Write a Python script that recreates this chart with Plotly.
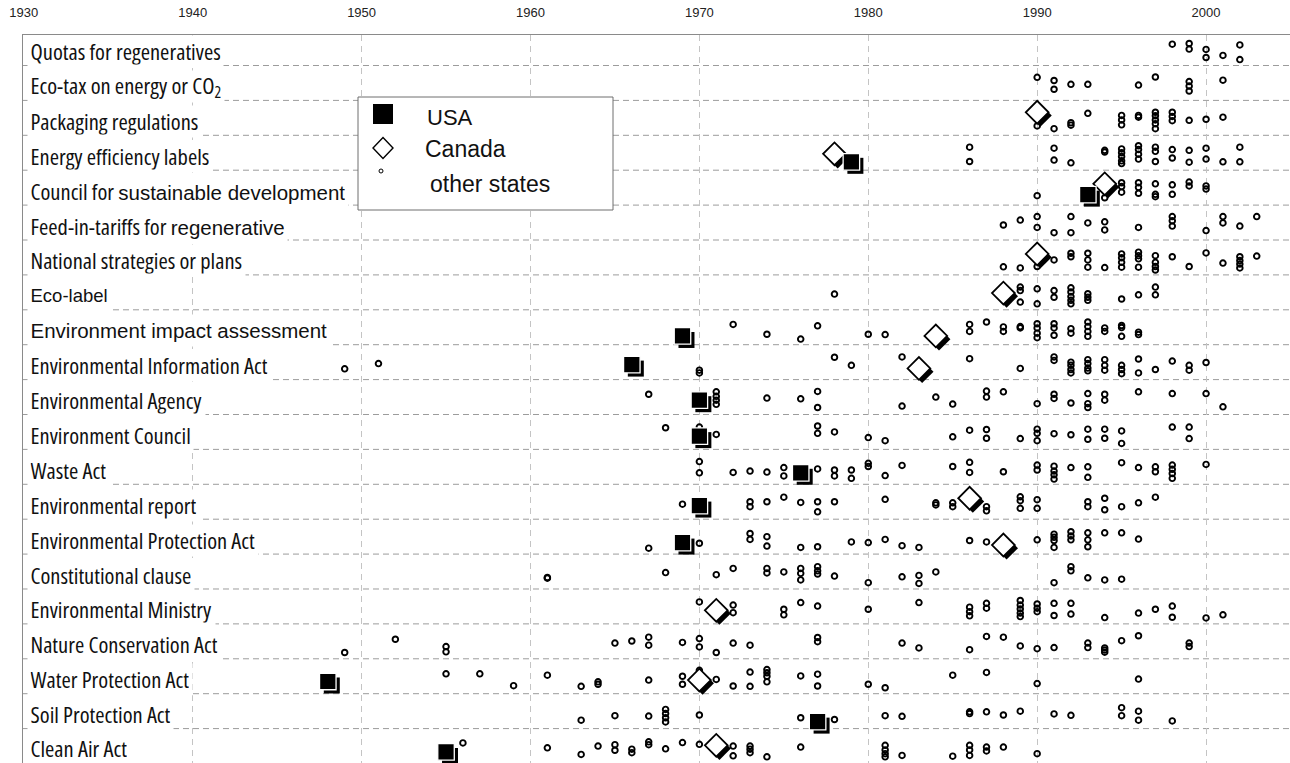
import plotly.graph_objects as go

# ---------------------------------------------------------------- data
categories = [
    "Quotas for regeneratives",
    "Eco-tax on energy or CO2",
    "Packaging regulations",
    "Energy efficiency labels",
    "Council for sustainable development",
    "Feed-in-tariffs for regenerative",
    "National strategies or plans",
    "Eco-label",
    "Environment impact assessment",
    "Environmental Information Act",
    "Environmental Agency",
    "Environment Council",
    "Waste Act",
    "Environmental report",
    "Environmental Protection Act",
    "Constitutional clause",
    "Environmental Ministry",
    "Nature Conservation Act",
    "Water Protection Act",
    "Soil Protection Act",
    "Clean Air Act",
]

tick_years = [1930, 1940, 1950, 1960, 1970, 1980, 1990, 2000]

# USA: row index, year of adoption, vertical place inside the row (row units)
usa_row = [3, 4, 8, 9, 10, 11, 12, 13, 14, 18, 19, 20]
usa_year = [1979, 1993, 1969, 1966, 1970, 1970, 1976, 1970, 1969, 1948, 1977, 1955]
usa_shift = [0.26, 0.20, 0.25, 0.07, 0.09, 0.12, 0.17, 0.11, 0.17, 0.15, 0.30, 0.17]

# Canada
canada_row = [2, 3, 4, 6, 7, 8, 9, 13, 14, 16, 18, 20]
canada_year = [1990, 1978, 1994, 1990, 1988, 1984, 1983, 1986, 1988, 1971, 1970, 1971]
canada_shift = [-0.16, 0.03, -0.11, -0.10, 0.02, 0.25, 0.18, -0.10, 0.24, 0.11, 0.11, -0.02]

# other states: per row, (year, vertical place inside the row)
other_states = [
    [(1998, -0.11), (1999, -0.13), (1999, 0.03), (2000, 0.04), (2000, 0.27), (2001, 0.21),
     (2002, -0.09), (2002, 0.33)],
    [(1990, -0.16), (1991, -0.07), (1991, 0.18), (1992, 0.04), (1993, 0.04), (1996, 0.06),
     (1997, -0.17), (1999, -0.04), (1999, 0.09), (1999, 0.23), (2001, -0.08)],
    [(1990, 0.23), (1991, 0.31), (1992, 0.14), (1992, 0.21), (1993, -0.13), (1995, -0.07),
     (1995, 0.06), (1995, 0.20), (1996, -0.07), (1996, -0.02), (1997, -0.16), (1997, -0.06),
     (1997, 0.06), (1997, 0.17), (1997, 0.31), (1998, -0.16), (1998, -0.04), (1998, 0.08),
     (1999, 0.07), (2000, 0.04), (2001, -0.02)],
    [(1986, -0.16), (1986, 0.25), (1991, -0.13), (1991, 0.21), (1992, 0.29), (1994, -0.07),
     (1994, -0.02), (1995, -0.11), (1995, 0.00), (1995, 0.11), (1995, 0.23), (1995, 0.31),
     (1996, -0.20), (1996, -0.09), (1996, 0.04), (1996, 0.18), (1997, -0.16), (1997, -0.04),
     (1997, 0.25), (1998, -0.09), (1998, 0.15), (1999, -0.07), (1999, 0.27), (2000, -0.13),
     (2000, 0.18), (2001, 0.26), (2002, -0.16), (2002, 0.26)],
    [(1990, 0.23), (1994, 0.29), (1995, -0.14), (1995, -0.03), (1995, 0.13), (1996, -0.14),
     (1996, -0.01), (1996, 0.16), (1997, -0.11), (1997, 0.19), (1997, 0.26), (1998, -0.08),
     (1998, 0.19), (1999, -0.16), (1999, -0.05), (2000, -0.05), (2000, 0.04)],
    [(1988, 0.07), (1989, -0.07), (1990, -0.17), (1990, 0.14), (1991, 0.29), (1992, -0.17),
     (1992, 0.29), (1993, 0.01), (1994, -0.02), (1994, 0.21), (1996, 0.14), (1998, -0.17),
     (1998, -0.05), (1998, 0.10), (2000, 0.23), (2001, -0.17), (2001, 0.01), (2002, 0.10),
     (2003, -0.17)],
    [(1988, 0.27), (1989, 0.30), (1990, 0.26), (1991, 0.07), (1992, -0.12), (1992, -0.02),
     (1993, -0.12), (1993, 0.07), (1993, 0.28), (1994, 0.29), (1995, -0.10), (1995, 0.01),
     (1995, 0.14), (1995, 0.28), (1996, -0.15), (1996, -0.05), (1996, 0.04), (1996, 0.28),
     (1997, -0.05), (1997, 0.14), (1997, 0.26), (1997, 0.36), (1998, -0.02), (1999, 0.26),
     (2000, -0.13), (2001, 0.16), (2002, -0.02), (2002, 0.09), (2002, 0.19), (2002, 0.30),
     (2003, -0.04)],
    [(1978, 0.05), (1989, -0.15), (1989, -0.05), (1989, 0.28), (1990, -0.10), (1990, 0.33),
     (1991, -0.05), (1991, 0.14), (1992, -0.13), (1992, -0.01), (1992, 0.12), (1992, 0.23),
     (1992, 0.33), (1993, 0.04), (1993, 0.14), (1993, 0.23), (1995, 0.19), (1996, 0.07),
     (1997, -0.15), (1997, 0.07)],
    [(1972, -0.08), (1974, 0.20), (1976, 0.34), (1977, -0.04), (1980, 0.20), (1981, 0.21),
     (1986, -0.08), (1986, 0.12), (1987, -0.15), (1988, -0.01), (1988, 0.12), (1989, -0.02),
     (1989, 0.02), (1990, -0.10), (1990, 0.02), (1990, 0.17), (1990, 0.30), (1991, -0.10),
     (1991, 0.02), (1991, 0.23), (1992, 0.04), (1992, 0.17), (1993, -0.15), (1993, -0.02),
     (1993, 0.12), (1993, 0.26), (1994, 0.02), (1994, 0.12), (1995, -0.05), (1995, 0.01),
     (1995, 0.26), (1996, 0.14), (1996, 0.21)],
    [(1949, 0.19), (1951, 0.04), (1970, 0.23), (1970, 0.31), (1978, -0.14), (1979, 0.09),
     (1982, -0.15), (1986, -0.10), (1989, 0.18), (1991, -0.15), (1991, -0.05), (1992, 0.00),
     (1992, 0.09), (1992, 0.21), (1992, 0.31), (1993, -0.07), (1993, 0.04), (1993, 0.17),
     (1993, 0.25), (1994, -0.07), (1994, 0.09), (1994, 0.23), (1995, 0.09), (1995, 0.21),
     (1995, 0.33), (1996, -0.09), (1996, 0.31), (1997, 0.21), (1998, -0.03), (1999, 0.09),
     (1999, 0.23), (2000, 0.01)],
    [(1967, -0.08), (1971, -0.15), (1971, -0.02), (1971, 0.09), (1971, 0.21), (1974, 0.03),
     (1976, 0.05), (1977, -0.16), (1977, 0.30), (1982, 0.26), (1984, 0.00), (1985, 0.20),
     (1987, -0.17), (1987, 0.00), (1988, -0.15), (1990, 0.19), (1991, -0.08), (1991, 0.04),
     (1992, 0.17), (1993, -0.10), (1993, 0.19), (1993, 0.30), (1994, -0.08), (1994, 0.09),
     (1996, -0.15), (1998, -0.10), (2000, -0.10), (2001, 0.28)],
    [(1968, -0.12), (1970, -0.14), (1971, 0.07), (1977, -0.17), (1977, 0.04), (1978, 0.00),
     (1980, 0.16), (1981, 0.25), (1985, 0.14), (1986, -0.05), (1987, -0.07), (1987, 0.18),
     (1989, 0.19), (1990, -0.08), (1990, 0.04), (1990, 0.25), (1991, 0.05), (1992, 0.08),
     (1993, -0.08), (1993, 0.21), (1994, -0.08), (1994, 0.18), (1995, -0.03), (1995, 0.33),
     (1998, -0.14), (1999, -0.14), (1999, 0.19)],
    [(1970, -0.15), (1970, 0.17), (1972, 0.16), (1973, 0.12), (1974, 0.15), (1975, 0.02),
     (1975, 0.26), (1977, 0.06), (1978, 0.09), (1978, 0.26), (1979, 0.09), (1979, 0.33),
     (1980, -0.10), (1980, -0.01), (1981, 0.25), (1982, -0.04), (1985, -0.01), (1986, -0.13),
     (1986, 0.16), (1988, 0.14), (1990, -0.05), (1990, 0.09), (1991, -0.02), (1991, 0.12),
     (1991, 0.23), (1991, 0.35), (1992, 0.02), (1993, 0.00), (1993, 0.30), (1995, -0.12),
     (1996, 0.02), (1997, 0.00), (1997, 0.14), (1998, -0.05), (1998, 0.07), (1998, 0.19),
     (1998, 0.33), (2000, -0.07)],
    [(1969, 0.07), (1973, 0.00), (1973, 0.14), (1974, 0.00), (1975, -0.13), (1976, 0.02),
     (1977, 0.00), (1977, 0.29), (1978, 0.00), (1981, -0.07), (1984, 0.03), (1984, 0.09),
     (1985, 0.03), (1985, 0.14), (1987, 0.14), (1987, 0.26), (1989, -0.14), (1989, -0.03),
     (1989, 0.19), (1990, -0.06), (1990, 0.19), (1993, 0.00), (1993, 0.14), (1994, -0.10),
     (1994, 0.23), (1995, 0.14), (1996, 0.03), (1997, -0.13)],
    [(1967, 0.33), (1970, 0.19), (1973, -0.09), (1973, 0.08), (1974, 0.00), (1974, 0.27),
     (1976, 0.31), (1977, 0.29), (1979, 0.15), (1980, 0.17), (1981, 0.08), (1982, 0.26),
     (1983, 0.31), (1986, 0.11), (1987, 0.15), (1990, 0.09), (1991, -0.07), (1991, 0.02),
     (1991, 0.11), (1991, 0.31), (1992, -0.14), (1992, -0.02), (1992, 0.09), (1993, -0.11),
     (1993, 0.09), (1993, 0.29), (1994, -0.11), (1995, -0.11), (1996, 0.07)],
    [(1961, 0.17), (1961, 0.19), (1968, 0.03), (1971, 0.09), (1972, -0.09), (1974, -0.09),
     (1974, 0.04), (1975, 0.01), (1976, -0.09), (1976, 0.05), (1976, 0.24), (1977, -0.14),
     (1977, -0.02), (1977, 0.07), (1978, 0.13), (1980, 0.32), (1982, 0.15), (1983, 0.11),
     (1983, 0.34), (1984, 0.01), (1991, 0.32), (1992, -0.14), (1992, -0.02), (1993, 0.18),
     (1994, 0.24), (1995, 0.22)],
    [(1970, -0.13), (1972, -0.04), (1972, 0.18), (1975, 0.08), (1975, 0.24), (1976, -0.11),
     (1977, -0.01), (1980, 0.08), (1983, -0.11), (1986, 0.02), (1986, 0.15), (1986, 0.27),
     (1987, -0.09), (1987, 0.05), (1989, -0.17), (1989, -0.04), (1989, 0.07), (1989, 0.19),
     (1989, 0.29), (1990, -0.07), (1990, 0.05), (1990, 0.15), (1991, -0.09), (1991, 0.26),
     (1992, -0.09), (1992, 0.22), (1994, 0.32), (1996, 0.19), (1997, 0.08), (1998, -0.01),
     (1998, 0.31), (2000, 0.33), (2001, 0.24)],
    [(1949, 0.32), (1952, -0.06), (1955, 0.15), (1955, 0.30), (1965, 0.05), (1966, -0.01),
     (1967, -0.12), (1967, 0.11), (1969, 0.03), (1970, -0.08), (1970, 0.16), (1971, 0.32),
     (1972, 0.05), (1973, 0.11), (1977, -0.11), (1977, 0.01), (1982, 0.05), (1983, 0.19),
     (1986, 0.24), (1987, -0.14), (1988, -0.12), (1989, 0.13), (1990, 0.21), (1991, 0.18),
     (1993, 0.05), (1993, 0.18), (1994, 0.19), (1994, 0.25), (1994, 0.31), (1995, -0.02),
     (1996, -0.16), (1999, 0.05), (1999, 0.15)],
    [(1955, -0.07), (1957, -0.07), (1959, 0.27), (1961, -0.03), (1963, 0.29), (1964, 0.16),
     (1964, 0.23), (1967, 0.11), (1969, 0.00), (1969, 0.23), (1970, -0.17), (1971, 0.09),
     (1972, 0.28), (1973, -0.12), (1973, 0.29), (1974, -0.19), (1974, -0.10), (1974, 0.00),
     (1974, 0.16), (1976, -0.01), (1977, -0.06), (1977, 0.28), (1980, 0.23), (1981, 0.33),
     (1985, -0.03), (1987, -0.11), (1990, 0.21), (1996, 0.08)],
    [(1963, 0.26), (1965, 0.13), (1967, 0.14), (1968, -0.05), (1968, 0.07), (1968, 0.19),
     (1968, 0.31), (1970, 0.11), (1976, 0.19), (1978, 0.24), (1981, 0.13), (1982, 0.15),
     (1986, 0.02), (1986, 0.07), (1987, 0.02), (1988, 0.11), (1989, 0.00), (1991, 0.08),
     (1992, 0.12), (1995, -0.10), (1995, 0.13), (1996, 0.00), (1996, 0.26), (1998, 0.28)],
    [(1956, -0.09), (1961, 0.05), (1963, 0.24), (1964, 0.00), (1965, -0.04), (1965, 0.12),
     (1966, 0.09), (1966, 0.19), (1967, -0.12), (1967, -0.04), (1968, 0.08), (1969, -0.10),
     (1970, -0.05), (1972, 0.00), (1972, 0.28), (1973, 0.00), (1973, 0.09), (1973, 0.19),
     (1974, 0.31), (1976, 0.03), (1981, -0.02), (1981, 0.11), (1981, 0.22), (1981, 0.31),
     (1982, 0.27), (1985, 0.29), (1986, -0.02), (1986, 0.11), (1986, 0.27), (1987, 0.03),
     (1987, 0.14), (1988, 0.03), (1990, 0.22)],
]

# ---------------------------------------------------------------- layout geometry
W, H = 1290, 763
M_L, M_T = 23, 35
X_RANGE = [1929.953, 2004.97]
Y_RANGE = [20.486, -0.374]          # first category on top
px_year = (W - M_L) / (X_RANGE[1] - X_RANGE[0])
px_row = (H - M_T) / (Y_RANGE[0] - Y_RANGE[1])
SHADOW_SQ = 4.0                      # drop shadow offset, pixels
SHADOW_DM = 3.2

REGULAR = "Liberation Sans, Arial, Helvetica, sans-serif"
CONDENSED = "font-family:'Open Sans';font-stretch:75%;font-size:22.5px"


def span(text, style):
    return f"<span style=\"{style}\">{text}</span>"


def regular(text, size):
    return span(text, f"font-family:'Liberation Sans';font-size:{size}px")


def condensed(text):
    return span(text, CONDENSED)


row_labels = [condensed(name) for name in categories]
row_labels[1] = condensed("Eco-tax on energy or CO<sub>2</sub>")
row_labels[4] = condensed("Council for ") + regular("sustainable development", 20.5)
row_labels[5] = condensed("Feed-in-tariffs for ") + regular("regenerative", 20.5)
row_labels[7] = regular("Eco-label", 18.5)
row_labels[8] = regular("Environment impact assessment", 20.5)

fig = go.Figure()

# other states: small open circles
ox, oy = [], []
for r, marks in enumerate(other_states):
    for yr, sh in marks:
        ox.append(yr)
        oy.append(r + sh)
fig.add_trace(go.Scatter(
    x=ox, y=oy, mode="markers", name="other states", hoverinfo="skip",
    marker=dict(symbol="circle-open", size=5.6, color="black", line=dict(width=1.9, color="black")),
))

# Canada: open diamonds with a dark drop shadow
cy = [r + s for r, s in zip(canada_row, canada_shift)]
fig.add_trace(go.Scatter(
    x=[v + SHADOW_DM / px_year for v in canada_year],
    y=[v + SHADOW_DM / px_row for v in cy],
    mode="markers", hoverinfo="skip",
    marker=dict(symbol="diamond", size=17.5, color="black", line=dict(width=0)),
))
fig.add_trace(go.Scatter(
    x=canada_year, y=cy, mode="markers", name="Canada",
    marker=dict(symbol="diamond", size=17.5, color="white", line=dict(width=1.8, color="black")),
))

# USA: filled squares with a drop shadow
uy = [r + s for r, s in zip(usa_row, usa_shift)]
fig.add_trace(go.Scatter(
    x=[v + SHADOW_SQ / px_year for v in usa_year],
    y=[v + SHADOW_SQ / px_row for v in uy],
    mode="markers", hoverinfo="skip",
    marker=dict(symbol="square", size=16, color="black", line=dict(width=0)),
))
fig.add_trace(go.Scatter(
    x=usa_year, y=uy, mode="markers", name="USA",
    marker=dict(symbol="square", size=16.5, color="black", line=dict(width=1.3, color="white")),
))

# dashed row separators
shapes = []
for k in range(len(categories) - 1):
    shapes.append(dict(type="line", xref="paper", x0=0, x1=1, yref="y", y0=k + 0.5, y1=k + 0.5,
                       line=dict(color="#9c9c9c", width=1, dash="6px,4px"), layer="below"))


def px2paper(px, py):
    return (px - M_L) / (W - M_L), 1 - (py - M_T) / (H - M_T)


# legend box drawn by hand
lx0, ly0 = px2paper(358, 97)
lx1, ly1 = px2paper(613, 210)
shapes.append(dict(type="rect", xref="paper", yref="paper", x0=lx0, x1=lx1, y0=ly1, y1=ly0,
                   fillcolor="white", line=dict(color="#6e6e6e", width=1), layer="above"))
a0, b0 = px2paper(373, 104)
a1, b1 = px2paper(393, 124)
shapes.append(dict(type="rect", xref="paper", yref="paper", x0=a0, x1=a1, y0=b1, y1=b0,
                   fillcolor="black", line=dict(width=0), layer="above"))
cxp, cyp = 383, 148
pts = [px2paper(cxp, cyp - 10.5), px2paper(cxp + 10, cyp), px2paper(cxp, cyp + 10.5), px2paper(cxp - 10, cyp)]
shapes.append(dict(type="path", xref="paper", yref="paper",
                   path="M {} {} L {} {} L {} {} L {} {} Z".format(*[c for p in pts for c in p]),
                   fillcolor="white", line=dict(color="black", width=1.4), layer="above"))
c0, d0 = px2paper(379, 169)
c1, d1 = px2paper(383, 173)
shapes.append(dict(type="circle", xref="paper", yref="paper", x0=c0, x1=c1, y0=d1, y1=d0,
                   fillcolor="white", line=dict(color="black", width=1), layer="above"))

annotations = []
last = len(row_labels) - 1
for i, lab in enumerate(row_labels):
    # caption boxes mask the dashed separator beneath each caption;
    # the bottom caption keeps its box inside the figure
    annotations.append(dict(
        text=lab, x=0, xref="paper", xanchor="left", xshift=4,
        y=i, yref="y", yanchor="middle", yshift=-3.5 if i < last else -2.5,
        showarrow=False, align="left", valign="middle",
        height=26 if i < last else 22, borderpad=2.5, bgcolor="white",
        font=dict(family=REGULAR, size=21, color="#111"),
    ))

for txt, px, py, fs in [("USA", 425, 117, 22), ("Canada", 423, 149, 23), ("other states", 428, 184, 23)]:
    xp, yp = px2paper(px, py)
    annotations.append(dict(text=txt, x=xp, y=yp, xref="paper", yref="paper",
                            xanchor="left", yanchor="middle", showarrow=False,
                            font=dict(family=REGULAR, size=fs, color="#111")))

fig.update_layout(
    width=W, height=H,
    margin=dict(l=M_L, r=0, t=M_T, b=0, pad=0),
    paper_bgcolor="white", plot_bgcolor="white",
    showlegend=False,
    shapes=shapes, annotations=annotations,
    xaxis=dict(
        range=X_RANGE, side="top", tickmode="array", tickvals=tick_years,
        ticktext=[str(t) for t in tick_years], ticks="", ticklabelstandoff=12,
        tickfont=dict(family=REGULAR, size=13, color="#222"),
        showgrid=True, gridcolor="#c4c4c4", gridwidth=1, griddash="6px,5px",
        zeroline=False, showline=True, linecolor="#8a8a8a", linewidth=1,
    ),
    yaxis=dict(
        range=Y_RANGE, showgrid=False, showticklabels=False, ticks="",
        zeroline=False, showline=True, linecolor="#8a8a8a", linewidth=1,
    ),
)

fig.write_html("out.html")
